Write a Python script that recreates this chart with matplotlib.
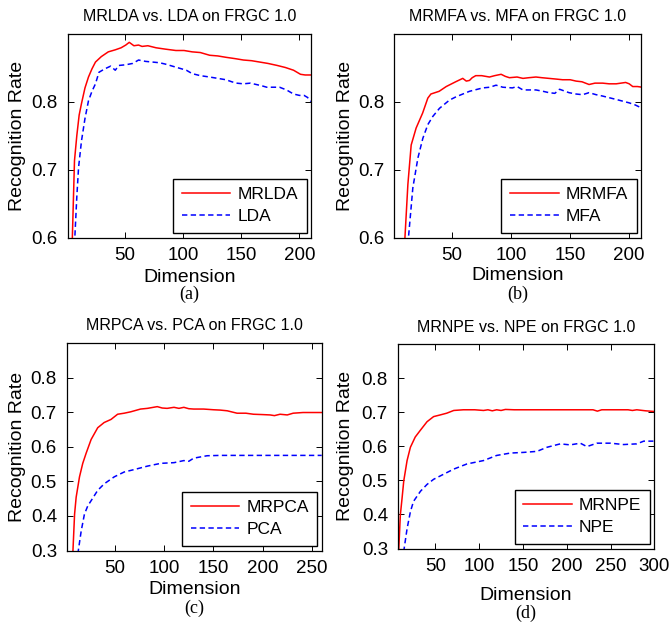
import matplotlib.pyplot as plt

plt.rcParams['font.family'] = ['Liberation Sans', 'DejaVu Sans']

# (a) MRLDA vs. LDA
dim_mrlda = [5, 7, 9, 11, 13, 16, 19, 22, 25, 30, 36, 42, 47, 51, 54, 58, 62, 65, 70, 77, 85, 94,
             101, 108, 115, 123, 130, 137, 145, 152, 159, 166, 173, 181, 188, 195, 201, 205, 210]
rate_mrlda = [0.59, 0.713, 0.75, 0.78, 0.797, 0.82, 0.836, 0.848, 0.858, 0.866, 0.873, 0.876, 0.879,
              0.883, 0.887, 0.882, 0.883, 0.881, 0.882, 0.879, 0.877, 0.875, 0.875, 0.873, 0.872,
              0.868, 0.867, 0.865, 0.863, 0.861, 0.860, 0.858, 0.856, 0.853, 0.850, 0.846, 0.840,
              0.839, 0.839]
dim_lda = [7, 9, 10.5, 13, 16, 19, 22, 25, 28, 33, 38, 42, 45, 51, 57, 62, 68, 74, 80, 85, 91, 97,
           103, 108, 115, 123, 130, 137, 142, 146, 152, 158, 163, 168, 172, 178, 183, 189, 195, 200,
           204, 207, 210]
rate_lda = [0.59, 0.66, 0.703, 0.742, 0.775, 0.801, 0.815, 0.826, 0.843, 0.848, 0.852, 0.846, 0.853,
            0.854, 0.856, 0.861, 0.859, 0.858, 0.857, 0.855, 0.852, 0.849, 0.846, 0.841, 0.838,
            0.836, 0.834, 0.832, 0.829, 0.827, 0.826, 0.827, 0.825, 0.823, 0.821, 0.821, 0.821,
            0.817, 0.811, 0.809, 0.809, 0.806, 0.800]

# (b) MRMFA vs. MFA
dim_mrmfa = [9.7, 12.5, 15.3, 19.5, 25, 29.4, 32, 39, 45, 53, 59, 62, 64.7, 67, 70, 75, 81.6, 86,
             91.5, 95, 98.5, 105, 110, 115, 121, 126, 132, 138, 143.6, 150, 155, 160, 166, 171,
             177.5, 183, 189, 193, 197, 200, 203, 207, 211]
rate_mrmfa = [0.59, 0.678, 0.736, 0.761, 0.783, 0.805, 0.811, 0.815, 0.822, 0.829, 0.834, 0.830,
              0.831, 0.835, 0.838, 0.838, 0.836, 0.838, 0.840, 0.837, 0.835, 0.836, 0.834, 0.835,
              0.836, 0.835, 0.834, 0.833, 0.832, 0.832, 0.830, 0.829, 0.825, 0.827, 0.827, 0.826,
              0.826, 0.827, 0.828, 0.826, 0.822, 0.822, 0.821]
dim_mfa = [12.5, 16.7, 21, 25.2, 29.4, 33.6, 39.3, 47.7, 53.4, 64.7, 76, 82, 87.2, 92.9, 101, 105,
           110, 121, 127, 132, 137, 141, 149, 155, 160.5, 166, 172, 177.5, 189, 200, 205, 211]
rate_mfa = [0.59, 0.673, 0.717, 0.746, 0.766, 0.778, 0.790, 0.802, 0.807, 0.815, 0.820, 0.821,
            0.824, 0.821, 0.820, 0.822, 0.817, 0.817, 0.815, 0.813, 0.812, 0.818, 0.813, 0.811,
            0.810, 0.813, 0.810, 0.808, 0.803, 0.798, 0.795, 0.790]

# (c) MRPCA vs. PCA
dim_mrpca = [7.2, 9, 10.6, 14, 17.3, 20.7, 25.8, 32.5, 39, 46, 52.7, 59.4, 66, 76, 83, 93, 98, 103,
             110, 115, 120, 125, 130, 140, 150, 157, 164, 174, 183, 190.7, 200, 207.6, 212, 217.7,
             225, 231, 241, 248, 255, 260]
rate_mrpca = [0.29, 0.405, 0.454, 0.513, 0.552, 0.581, 0.621, 0.655, 0.670, 0.679, 0.694, 0.697,
              0.701, 0.709, 0.711, 0.716, 0.712, 0.711, 0.714, 0.711, 0.714, 0.710, 0.709, 0.709,
              0.707, 0.706, 0.704, 0.697, 0.697, 0.694, 0.693, 0.692, 0.690, 0.694, 0.692, 0.697,
              0.699, 0.699, 0.699, 0.699]
dim_pca = [12.3, 15.7, 19, 22.4, 25.8, 32.5, 39.2, 49.3, 59.4, 69.5, 83, 96.5, 110, 120, 125, 130,
           143.6, 157, 184, 211, 235, 260]
rate_pca = [0.29, 0.356, 0.405, 0.429, 0.444, 0.474, 0.493, 0.513, 0.527, 0.534, 0.544, 0.552,
            0.554, 0.560, 0.558, 0.567, 0.574, 0.575, 0.575, 0.575, 0.575, 0.575]

# (d) MRNPE vs. NPE
dim_mrnpe = [8.1, 10, 12, 13.9, 17.7, 21.5, 27, 32.9, 40.5, 48, 55.7, 63, 71, 82, 95, 105, 110, 115,
             120, 125, 130, 140, 160, 180, 200, 220, 230, 235, 240, 260, 270, 275, 280, 290, 300]
rate_mrnpe = [0.29, 0.398, 0.448, 0.498, 0.558, 0.597, 0.627, 0.647, 0.672, 0.687, 0.692, 0.697,
              0.705, 0.707, 0.707, 0.705, 0.707, 0.704, 0.707, 0.705, 0.708, 0.707, 0.707, 0.707,
              0.707, 0.707, 0.707, 0.703, 0.707, 0.707, 0.707, 0.705, 0.707, 0.704, 0.702]
dim_npe = [13.8, 17.7, 21.5, 25, 33, 40.5, 48, 59.5, 71, 86, 105, 120, 135.6, 151, 166, 177.5,
           192.7, 204, 215.5, 223, 234.5, 250, 265, 280, 288, 299]
rate_npe = [0.29, 0.358, 0.408, 0.438, 0.468, 0.488, 0.503, 0.518, 0.533, 0.548, 0.558, 0.573,
            0.580, 0.582, 0.585, 0.597, 0.607, 0.604, 0.609, 0.599, 0.609, 0.609, 0.605, 0.607,
            0.615, 0.615]

titles = ['MRLDA vs. LDA on FRGC 1.0', 'MRMFA vs. MFA on FRGC 1.0',
          'MRPCA vs. PCA on FRGC 1.0', 'MRNPE vs. NPE on FRGC 1.0']
names = [('MRLDA', 'LDA'), ('MRMFA', 'MFA'), ('MRPCA', 'PCA'), ('MRNPE', 'NPE')]
sublabels = ['(a)', '(b)', '(c)', '(d)']
xticks = [[50, 100, 150, 200], [50, 100, 150, 200],
          [50, 100, 150, 200, 250], [50, 100, 150, 200, 250, 300]]
yticks = [[0.6, 0.7, 0.8], [0.6, 0.7, 0.8],
          [0.3, 0.4, 0.5, 0.6, 0.7, 0.8], [0.3, 0.4, 0.5, 0.6, 0.7, 0.8]]

curves = [(dim_mrlda, rate_mrlda, dim_lda, rate_lda),
          (dim_mrmfa, rate_mrmfa, dim_mfa, rate_mfa),
          (dim_mrpca, rate_mrpca, dim_pca, rate_pca),
          (dim_mrnpe, rate_mrnpe, dim_npe, rate_npe)]

# layout (pixels of the 670x624 picture turned into fractions)
W, H = 670.0, 624.0
boxes = [(67.5, 33.5, 311, 237.5), (394.3, 33.5, 641, 237.5),
         (66.7, 343, 321.7, 550.5), (397.7, 344, 654.3, 548.5)]
xlims = [(1, 210), (1, 210), (1, 260), (7, 300)]
ylims = [(0.6, 0.9), (0.6, 0.9), (0.3, 0.9), (0.3, 0.9)]
xlab_y = [277, 276, 590, 595]
sub_y = [294, 294, 608, 613]
ylab_x = [18, 346, 18, 345]

fig = plt.figure(figsize=(6.7, 6.24), dpi=100)

for i in range(4):
    l, t, r, b = boxes[i]
    ax = fig.add_axes([l / W, 1 - b / H, (r - l) / W, (b - t) / H])
    d1, v1, d2, v2 = curves[i]
    ax.plot(d1, v1, color='#ff0000', lw=1.1, label=names[i][0])
    ax.plot(d2, v2, color='#0000ff', lw=1.1, ls='--', dashes=(3.5, 2.2), label=names[i][1])
    ax.set_xlim(xlims[i])
    ax.set_ylim(ylims[i])
    ax.set_xticks(xticks[i])
    ax.set_yticks(yticks[i])
    ax.tick_params(direction='in', top=True, right=True, length=4, width=0.7,
                   labelsize=13.5, colors='k')
    ax.tick_params(axis='y', pad=7)
    ax.tick_params(axis='x', pad=7)
    for s in ax.spines.values():
        s.set_linewidth(0.9)
    ax.set_title(titles[i], fontsize=11.5, pad=9)
    ax.set_xlabel('Dimension', fontsize=14, va='center')
    ax.xaxis.set_label_coords(((l + r) / 2 - l) / (r - l), -(xlab_y[i] - b) / (b - t))
    ax.set_ylabel('Recognition Rate', fontsize=14, va='center')
    ax.yaxis.set_label_coords(-(l - ylab_x[i]) / (r - l), 0.5)
    ax.legend(loc='lower right', fancybox=False, edgecolor='k', framealpha=1, fontsize=12.5,
              handlelength=2.8, handletextpad=0.4, borderpad=0.5, labelspacing=0.4,
              borderaxespad=0.25)
    fig.text((l + r) / 2 / W, 1 - sub_y[i] / H, sublabels[i], ha='center', va='center',
             fontsize=13, family='Liberation Serif')

plt.savefig('out.png')
